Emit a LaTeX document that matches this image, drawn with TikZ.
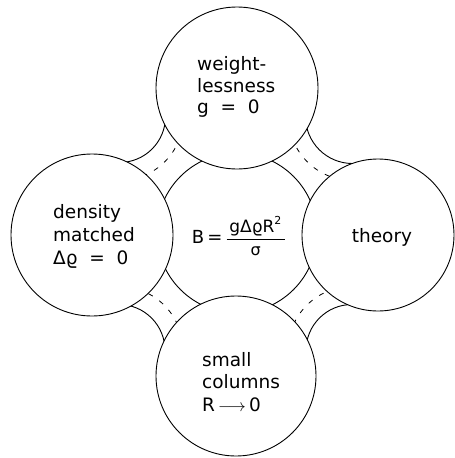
\documentclass[tikz,border=0pt]{standalone}
\usepackage{fontspec}
\setmainfont{DejaVu Sans}
\newcommand\myoutside{%
  \clip (-20,-20) rectangle (480,480) (T) circle[radius=81pt];
  \clip (-20,-20) rectangle (480,480) (L) circle[radius=81pt];
  \clip (-20,-20) rectangle (480,480) (R) circle[radius=76pt];
  \clip (-20,-20) rectangle (480,480) (B) circle[radius=80pt];}
\begin{document}
\begin{tikzpicture}[x=1pt,y=-1pt]
\tikzset{
  outline/.style={draw=black, line width=0.9pt},
  hatch/.style={draw=black, line width=0.8pt, dash pattern=on 5pt off 8pt},
  lbl/.style={font=\fontsize{18.5}{21.5}\selectfont, align=left, inner sep=0pt, anchor=west},
}
\useasboundingbox (0,0) rectangle (455,458);
% centres
\coordinate (T) at (237,88);
\coordinate (L) at (92,235);
\coordinate (R) at (378,235);
\coordinate (B) at (236,376);
\coordinate (O) at (237,233);
\coordinate (F1) at (119.5,116.5);
\coordinate (F2) at (352.5,116.5);
\coordinate (F3) at (119,350.5);
\coordinate (F4) at (352,350.5);
% outer circles
\draw[outline] (T) circle[radius=81pt];
\draw[outline] (L) circle[radius=81pt];
\draw[outline] (R) circle[radius=76pt];
\draw[outline] (B) circle[radius=80pt];
% central circle, only outside the outer circles
\begin{scope}[even odd rule]
  \myoutside
  \draw[outline] (O) circle[radius=80pt];
  % outer fillet arcs of the bridges
  \begin{scope}
    \clip (O) circle[radius=140pt];
    \draw[outline] (F1) circle[radius=46pt];
    \draw[outline] (F2) circle[radius=47pt];
    \draw[outline] (F3) circle[radius=46pt];
    \draw[outline] (F4) circle[radius=46pt];
    \clip (-20,-20) rectangle (480,480) (O) circle[radius=80pt];
    \draw[hatch] (F1) circle[radius=64pt];
    \draw[hatch] (F2) circle[radius=64pt];
    \draw[hatch] (F3) circle[radius=64pt];
    \draw[hatch] (F4) circle[radius=64pt];
  \end{scope}
\end{scope}
% labels
\node[lbl] (top) at (197,87) {weight-\\lessness\\g\ \ =\ \ 0};
\node[lbl, font=\fontsize{18.5}{23}\selectfont] (left) at (53,236) {density\\matched\\Δϱ\ \ =\ \ 0};
\node[lbl, font=\fontsize{18.5}{22.5}\selectfont] (bottom) at (202,382) {small\\columns\\R\,$\longrightarrow$\,0};
\node[lbl, anchor=center] (right) at (382,237) {theory};
\node[inner sep=0pt, font=\fontsize{18}{21}\selectfont] (eq) at (239,236)
  {B\,=\,$\displaystyle\frac{\mbox{\fontsize{17}{17}\selectfont\,gΔϱR}^{\mbox{\fontsize{11}{11}\selectfont 2}}\,}{\mbox{\fontsize{16}{16}\selectfont σ}}$};
\end{tikzpicture}
\end{document}
